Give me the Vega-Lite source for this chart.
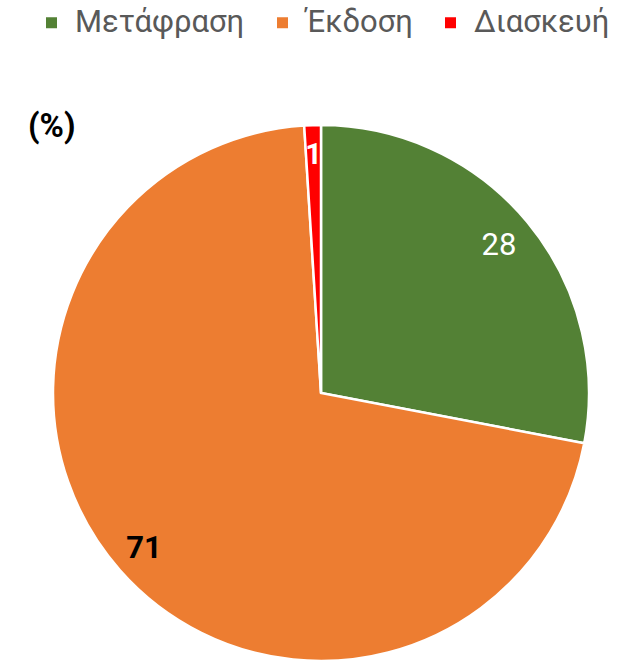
{
  "$schema": "https://vega.github.io/schema/vega-lite/v6.json",
  "width": 536,
  "height": 536,
  "autosize": "none",
  "padding": {"left": 53, "top": 125, "right": 29, "bottom": 0},
  "background": "white",
  "config": {"view": {"stroke": null}},
  "title": {"text": "(%)", "anchor": "start", "orient": "top", "font": "Roboto", "fontSize": 33, "fontWeight": "bold", "color": "#000000", "dx": -8, "dy": 123, "offset": -14},
  "data": {"values": [
    {"type": "Μετάφραση", "value": 28, "order": 1},
    {"type": "Έκδοση", "value": 71, "order": 2},
    {"type": "Διασκευή", "value": 1, "order": 3}
  ]},
  "encoding": {
    "theta": {"field": "value", "type": "quantitative", "stack": true},
    "order": {"field": "order", "type": "quantitative"}
  },
  "layer": [
    {
      "mark": {"type": "arc", "outerRadius": 268, "stroke": "white", "strokeWidth": 2.5},
      "encoding": {
        "color": {"field": "type", "type": "nominal",
          "scale": {"domain": ["Μετάφραση", "Έκδοση", "Διασκευή"], "range": ["#538135", "#ED7D31", "#FF0000"]},
          "sort": ["Μετάφραση", "Έκδοση", "Διασκευή"],
          "legend": {"title": null, "orient": "none", "legendX": -17, "legendY": -118, "padding": 0, "offset": 0, "direction": "horizontal", "columns": 3,
            "symbolType": "square", "symbolSize": 121, "symbolStrokeWidth": 0, "labelFont": "Roboto", "labelFontSize": 31, "labelColor": "#595959",
            "columnPadding": 22, "labelOffset": 8, "labelLimit": 300}
        }
      }
    },
    {
      "mark": {"type": "text", "radius": 231, "font": "Roboto", "fontSize": 31, "color": "white"},
      "encoding": {
        "text": {"field": "value", "type": "quantitative"},
        "opacity": {"condition": {"test": "datum.order == 1", "value": 1}, "value": 0}
      }
    },
    {
      "mark": {"type": "text", "radius": 236, "font": "Roboto", "fontSize": 31, "fontWeight": "bold", "color": "black"},
      "encoding": {
        "text": {"field": "value", "type": "quantitative"},
        "opacity": {"condition": {"test": "datum.order == 2", "value": 1}, "value": 0}
      }
    },
    {
      "mark": {"type": "text", "radius": 238, "font": "Roboto", "fontSize": 29, "fontWeight": "bold", "color": "white"},
      "encoding": {
        "text": {"field": "value", "type": "quantitative"},
        "opacity": {"condition": {"test": "datum.order == 3", "value": 1}, "value": 0}
      }
    }
  ]
}
